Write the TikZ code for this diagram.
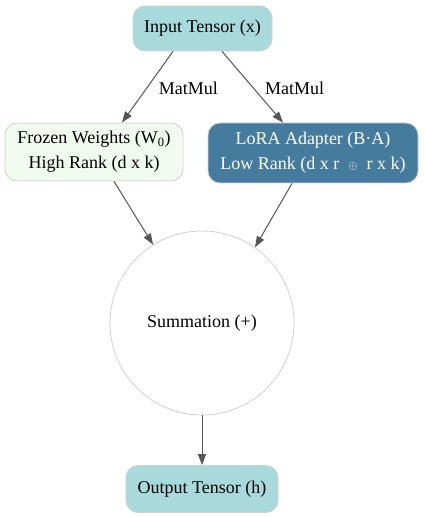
\documentclass[tikz,border=0pt]{standalone}
\usepackage{fontspec}
\setmainfont{Liberation Serif}
\usetikzlibrary{arrows.meta}
\definecolor{cyanfill}{HTML}{A8DADC}
\definecolor{paleg}{HTML}{F1FAEE}
\definecolor{steel}{HTML}{457B9D}
\definecolor{edgec}{HTML}{555555}
\definecolor{bord}{HTML}{D0D0D0}
\begin{document}
\begin{tikzpicture}[x=1pt,y=-1pt,
  every node/.style={font=\fontsize{18}{25}\selectfont},
  box/.style={draw=bord, line width=0.8pt, rounded corners=12pt, align=center, inner sep=0pt},
  arr/.style={draw=edgec, line width=1pt, -{Triangle[length=11pt,width=8pt]}},
  lbl/.style={inner sep=0pt}
]
\useasboundingbox (0,0) rectangle (424,518);
\node[box, fill=cyanfill, minimum width=139pt, minimum height=45pt] (in) at (202.5,28.5) {Input Tensor (x)};
\node[box, fill=paleg, minimum width=178pt, minimum height=58pt] (fw) at (94,152) {Frozen Weights (W\textsubscript{0})\\High Rank (d x k)};
\node[box, fill=steel, text=white, minimum width=210pt, minimum height=60pt] (lora) at (313,153) {LoRA Adapter (B·A)\\Low Rank (d x r \ ${\scriptstyle\oplus}$ \ r x k)};
\node[circle, draw=bord, line width=0.8pt, fill=white, minimum size=184pt, inner sep=0pt] (sum) at (202,323) {Summation (+)};
\node[box, fill=cyanfill, minimum width=152pt, minimum height=47pt] (out) at (202,489) {Output Tensor (h)};
\draw[arr] ([xshift=-29.5pt]in.south) -- node[lbl, anchor=west, pos=0.52, xshift=12pt] {MatMul} ([xshift=28pt]fw.north);
\draw[arr] ([xshift=19.5pt]in.south) -- node[lbl, anchor=west, pos=0.52, xshift=11pt] {MatMul} ([xshift=-30pt]lora.north);
\draw[arr] ([xshift=20pt]fw.south) -- (sum.122.7);
\draw[arr] ([xshift=-21pt]lora.south) -- (sum.55);
\draw[arr] (sum.south) -- (out.north);
\end{tikzpicture}
\end{document}
